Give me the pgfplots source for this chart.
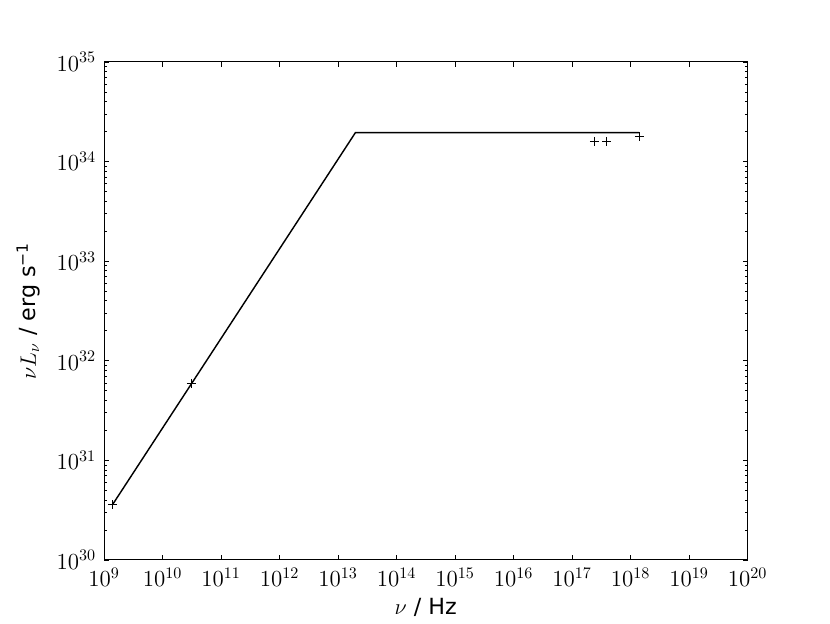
\RequirePackage{fix-cm}
\documentclass[border=0pt]{standalone}
\usepackage{fontspec}
\setmainfont{DejaVu Sans}
\usepackage{pgfplots}
\pgfplotsset{compat=1.18}
\begin{document}
\fontsize{13.5}{16}\selectfont
\begin{tikzpicture}
\useasboundingbox (0pt,0pt) rectangle (578.2pt,434.0pt);
\begin{axis}[
  at={(72.45pt,43.89pt)}, anchor=south west,
  scale only axis,
  width=448.3pt, height=346.9pt,
  xmode=log, ymode=log,
  xmin=1e9, xmax=1e20, ymin=1e30, ymax=1e35,
  xtick={1e9,1e10,1e11,1e12,1e13,1e14,1e15,1e16,1e17,1e18,1e19,1e20},
  ytick={1e30,1e31,1e32,1e33,1e34,1e35},
  xminorticks=false,
  tick align=inside,
  major tick length=3.5pt,
  minor tick length=1.9pt,
  every tick/.style={black, line width=0.5pt},
  axis line style={line width=0.7pt},
  xtick pos=both, ytick pos=both,
  tick label style={font=\fontsize{16}{19}\selectfont},
  label style={font=\fontsize{15.5}{18}\selectfont},
  xlabel={$\nu$ / Hz},
  ylabel={$\nu L_\nu$ / erg s\textsuperscript{−1}},
  xlabel style={yshift=1pt},
  ylabel style={yshift=2pt},
  xticklabel style={yshift=-1pt},
  yticklabel style={xshift=-1pt},
]
\addplot[black, line width=1pt, mark=none] coordinates {
  (1.41e9,3.62e30) (1.98e13,1.95e34) (1.40e18,1.95e34)
};
\addplot[only marks, mark=+, mark size=3pt, black, line width=0.5pt] coordinates {
  (1.41e9,3.62e30) (3.10e10,5.94e31) (2.40e17,1.60e34) (3.92e17,1.60e34) (1.41e18,1.78e34)
};
\end{axis}
\end{tikzpicture}
\end{document}
